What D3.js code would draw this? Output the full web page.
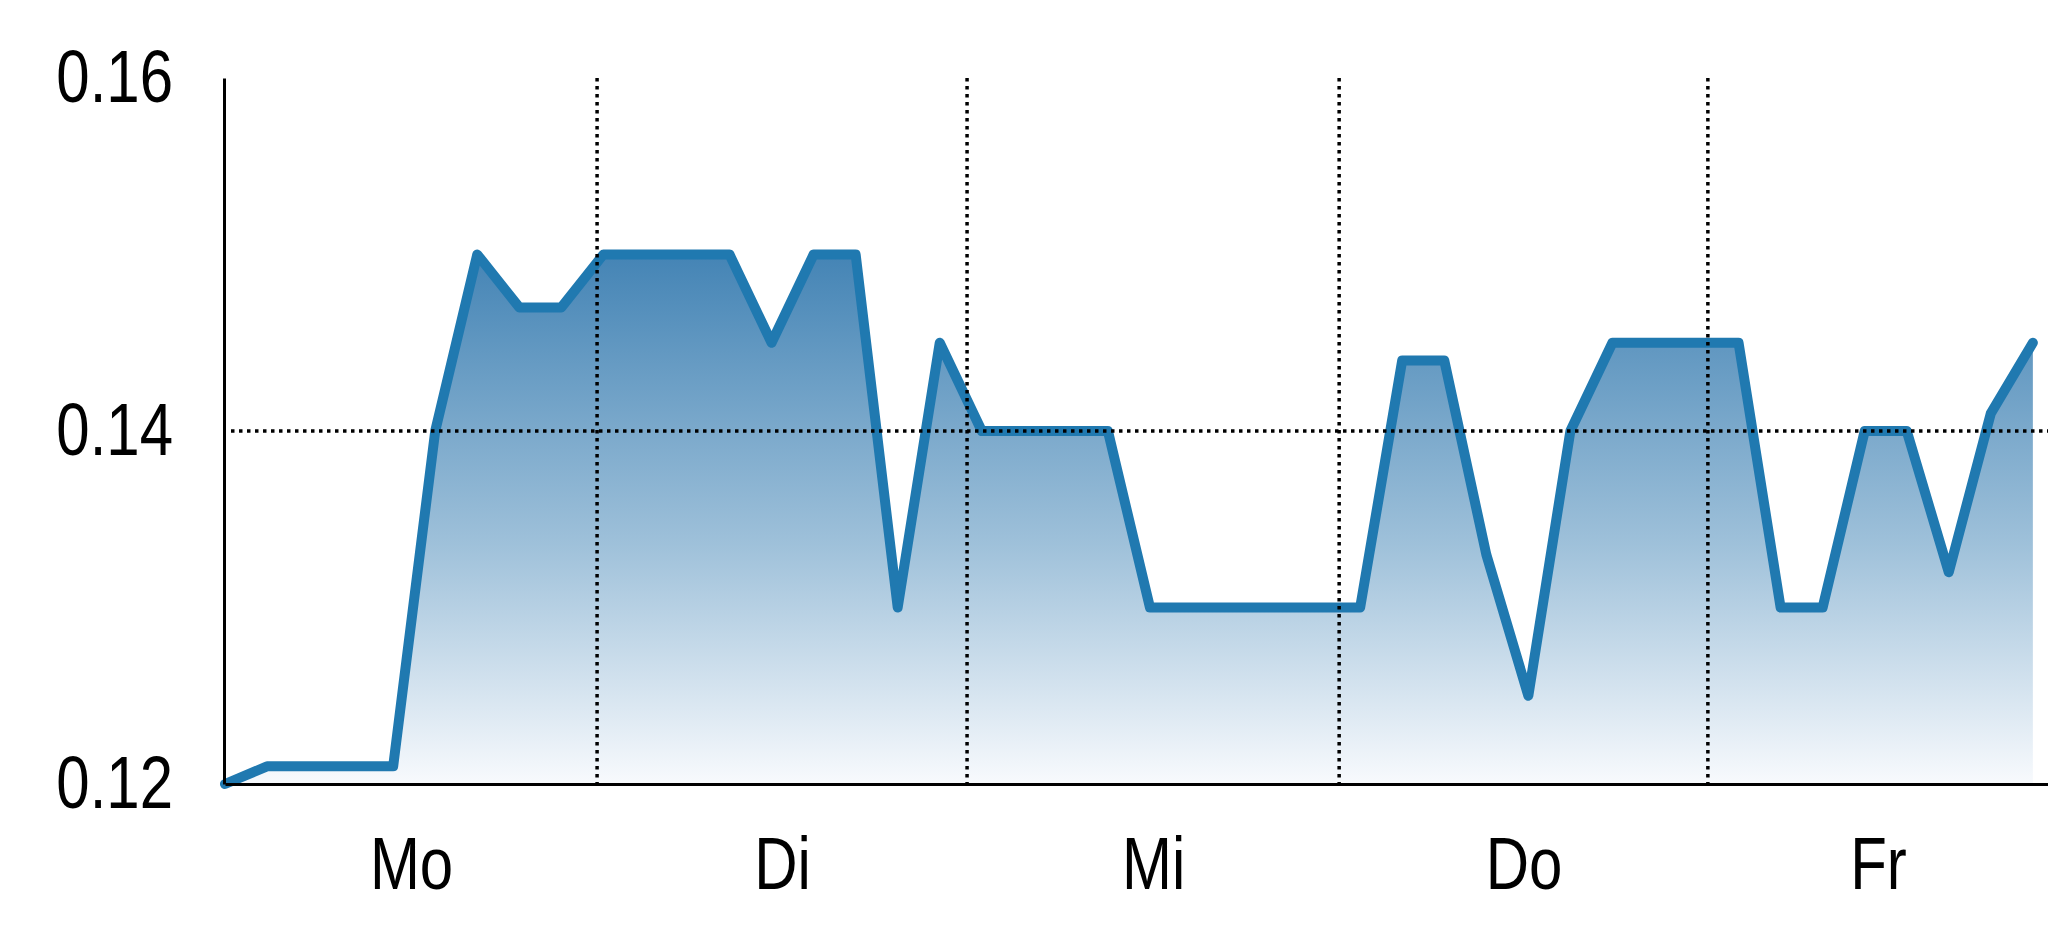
<!DOCTYPE html>
<html>
<head>
<meta charset="utf-8">
<script src="https://cdn.jsdelivr.net/npm/d3@7"></script>
<style>
  html, body { margin: 0; padding: 0; background: #fff; }
  svg { display: block; }
  text { font-family: "Liberation Sans", Arial, sans-serif; }
</style>
</head>
<body>
<svg id="chart" width="2048" height="937"></svg>
<script>
// ---- data ----
const days = ["Mo", "Di", "Mi", "Do", "Fr"];
// day boundaries in sample-index units (start, separators..., end of visible axis)
const dayBounds = [0, 8.85, 17.65, 26.5, 35.27, 43.36];
const values = [
  0.120, 0.121, 0.121, 0.121, 0.121, 0.140, 0.150, 0.147, 0.147,
  0.150, 0.150, 0.150, 0.150, 0.145, 0.150, 0.150, 0.130, 0.145,
  0.140, 0.140, 0.140, 0.140, 0.130, 0.130, 0.130, 0.130, 0.130, 0.130,
  0.144, 0.144, 0.133, 0.125, 0.140, 0.145, 0.145, 0.145, 0.145,
  0.130, 0.130, 0.140, 0.140, 0.132, 0.141, 0.145
];
const yTicks = [0.12, 0.14, 0.16];
const yGrid = [0.14];

(function () {
  const svg = d3.select("#chart");
  const mLeft = 225, mRight = 2048, mTop = 78, mBottom = 784;
  const narrow = 0.81;

  const x = d3.scaleLinear().domain([dayBounds[0], dayBounds[dayBounds.length - 1]]).range([mLeft, mRight]);
  const y = d3.scaleLinear().domain([0.12, 0.16]).range([mBottom, mTop]);

  const data = values.map((v, i) => ({ i, v }));

  const defs = svg.append("defs");
  const grad = defs.append("linearGradient").attr("id", "fillGrad")
    .attr("x1", 0).attr("y1", 0).attr("x2", 0).attr("y2", 1);
  grad.append("stop").attr("offset", "0%").attr("stop-color", "#4484b5");
  grad.append("stop").attr("offset", "55%").attr("stop-color", "#9fc1da");
  grad.append("stop").attr("offset", "100%").attr("stop-color", "#f8fafd");

  const area = d3.area().x(d => x(d.i)).y0(y(0.12)).y1(d => y(d.v));
  svg.append("path").datum(data).attr("d", area).attr("fill", "url(#fillGrad)");

  const line = d3.line().x(d => x(d.i)).y(d => y(d.v));
  svg.append("path").datum(data).attr("d", line)
    .attr("fill", "none").attr("stroke", "#2079b0").attr("stroke-width", 10)
    .attr("stroke-linejoin", "round").attr("stroke-linecap", "round");

  const yAxis = svg.append("g").attr("transform", `translate(${mLeft - 1},0)`)
    .call(d3.axisLeft(y).tickValues(yTicks).tickFormat(d3.format(".2f")).tickSize(0).tickPadding(0));
  yAxis.select(".domain").attr("stroke", "#000").attr("stroke-width", 3);
  yAxis.selectAll("text").attr("font-size", 74).attr("fill", "#000")
    .attr("font-family", "Liberation Sans, Arial, sans-serif")
    .attr("x", 0)
    .attr("transform", `translate(-51,0) scale(${narrow},1)`);

  const labelPos = days.map((d, k) => (dayBounds[k] + dayBounds[k + 1]) / 2);
  const xAxis = svg.append("g").attr("transform", `translate(0,${mBottom})`)
    .call(d3.axisBottom(x).tickValues(labelPos).tickFormat((d, k) => days[k]).tickSize(0).tickPadding(52));
  xAxis.select(".domain").attr("stroke", "#000").attr("stroke-width", 3);
  xAxis.selectAll("text").attr("font-size", 74).attr("fill", "#000")
    .attr("font-family", "Liberation Sans, Arial, sans-serif")
    .attr("transform", `scale(${narrow},1)`);

  svg.append("g").selectAll("line").data(dayBounds.slice(1, -1)).join("line")
    .attr("x1", d => x(d)).attr("x2", d => x(d))
    .attr("y1", y(0.16)).attr("y2", y(0.12))
    .attr("stroke", "#000").attr("stroke-width", 3.5).attr("stroke-dasharray", "3.5 4.5");
  svg.append("g").selectAll("line").data(yGrid).join("line")
    .attr("x1", mLeft + 6).attr("x2", mRight)
    .attr("y1", d => y(d)).attr("y2", d => y(d))
    .attr("stroke", "#000").attr("stroke-width", 3.5).attr("stroke-dasharray", "3.5 4.5");
})();
</script>
</body>
</html>
